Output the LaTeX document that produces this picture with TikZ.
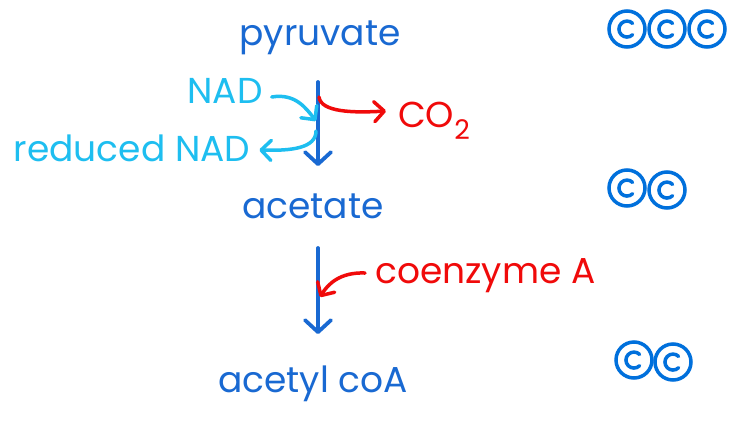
\documentclass[tikz,border=0pt]{standalone}
\usepackage{fontspec}
\setmainfont{Poppins}
\usetikzlibrary{arrows.meta}
\definecolor{dblue}{RGB}{25,105,210}
\definecolor{cblue}{RGB}{0,112,220}
\definecolor{lblue}{RGB}{30,190,240}
\definecolor{dred}{RGB}{240,10,10}
\begin{document}
\begin{tikzpicture}[x=1pt,y=-1pt,
  lbl/.style={inner sep=0pt, anchor=base, font=\fontsize{36}{40}\selectfont},
  bigtip/.style={-{Straight Barb[length=12pt,width=26pt,line cap=round,line join=round]}},
  smalltip/.style={-{Straight Barb[length=10pt,width=20pt,line cap=round,line join=round]}},
  mainarrow/.style={draw=dblue, line width=3.8pt, line cap=round, bigtip},
  nadarrow/.style={draw=lblue, line width=3.5pt, line cap=round, smalltip},
  redarrow/.style={draw=dred, line width=3.5pt, line cap=round, smalltip},
  coin/.style={circle, draw=cblue, line width=3.5pt, minimum size=36pt, inner sep=0pt},
  cmark/.style={draw=cblue, line width=3.5pt, line cap=round}
]
\useasboundingbox (0,0) rectangle (736,421);
\fill[white] (0,0) rectangle (736,421);

% texts
\node[lbl, text=dblue] (pyr) at (320,45) {pyruvate};
\node[lbl, text=dblue] (acet) at (313,218) {acetate};
\node[lbl, text=dblue] (acoa) at (313,392) {acetyl coA};
\node[lbl, text=lblue] (nad) at (225,103) {NAD};
\node[lbl, text=lblue] (rnad) at (132,161) {reduced NAD};
\node[lbl, text=dred, anchor=base west] (co2) at (398,127) {CO\raisebox{-0.35em}{\fontsize{27}{30}\selectfont 2}};
\node[lbl, text=dred, anchor=base west] (coa) at (375,283) {coenzyme A};

% connector end points
\coordinate (a1top) at (318,82);
\coordinate (a1bot) at (318,166);
\coordinate (a2top) at (318,248);
\coordinate (a2bot) at (318,334);
\coordinate (nadin) at (316,121);
\coordinate (nadout) at (316,131);
\coordinate (co2out) at (319,97);
\coordinate (coain) at (320,297);

% main arrows
\draw[mainarrow] (a1top) -- (a1bot);
\draw[mainarrow] (a2top) -- (a2bot);

% side arrows
\draw[nadarrow] ([xshift=9pt,yshift=6pt]nad.base east) .. controls (295,93) and (306,108) .. (nadin);
\draw[nadarrow] (nadout) .. controls (316,148) and (292,151) .. ([xshift=9pt,yshift=11pt]rnad.base east);
\draw[redarrow] (co2out) .. controls (321,112) and (352,113) .. ([xshift=-12pt,yshift=16pt]co2.base west);
\draw[redarrow] ([xshift=-10pt,yshift=10pt]coa.base west) .. controls (340,272) and (328,284) .. (coain);

% coins
\foreach \n/\x/\y in {a/627/29, b/667/29, c/707/29, d/627/188, e/667/190, f/634/360, g/673/362} {
  \node[coin] (coin\n) at (\x,\y) {};
  \draw[cmark] ([xshift=5.6pt,yshift=5.6pt]coin\n.center) arc[start angle=45, end angle=315, radius=8pt];
}
\end{tikzpicture}
\end{document}
